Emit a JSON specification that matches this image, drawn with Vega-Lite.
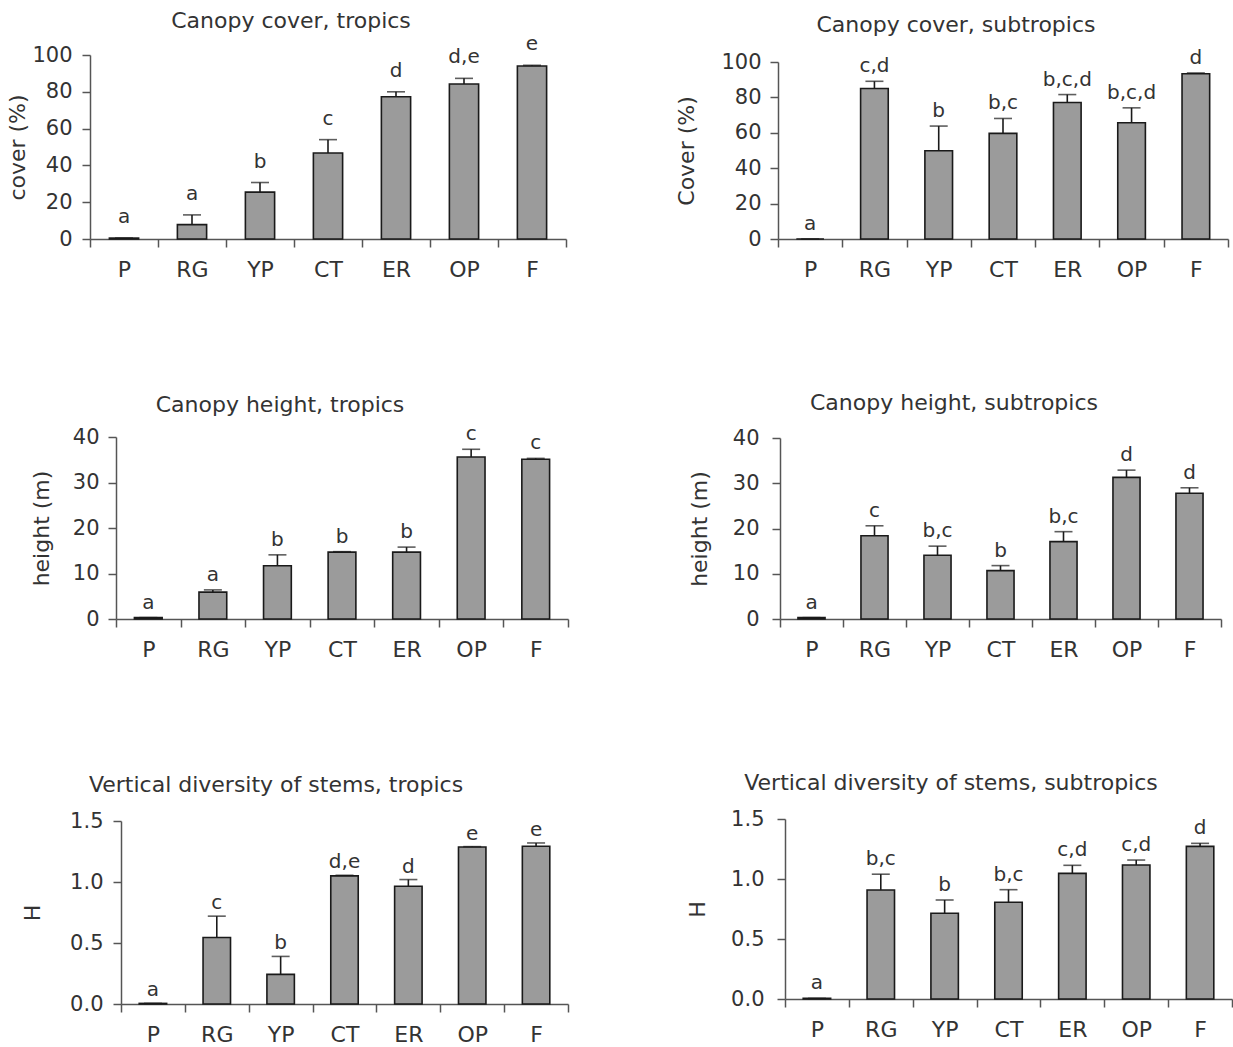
{
  "$schema": "https://vega.github.io/schema/vega-lite/v6.json",
  "padding": {"left": 6, "top": 10, "right": 0, "bottom": 0},
  "bounds": "flush",
  "spacing": 382,
  "datasets": {
    "p1": [
      {"site": "P", "value": 0.5, "err": 0.5, "letter": "a"},
      {"site": "RG", "value": 7.8, "err": 13.1, "letter": "a"},
      {"site": "YP", "value": 25.5, "err": 30.7, "letter": "b"},
      {"site": "CT", "value": 46.7, "err": 54, "letter": "c"},
      {"site": "ER", "value": 77.3, "err": 80, "letter": "d"},
      {"site": "OP", "value": 84.2, "err": 87.3, "letter": "d,e"},
      {"site": "F", "value": 94, "err": 94.4, "letter": "e"}
    ],
    "p2": [
      {"site": "P", "value": 0, "err": 0, "letter": "a"},
      {"site": "RG", "value": 85, "err": 89.1, "letter": "c,d"},
      {"site": "YP", "value": 49.9, "err": 63.8, "letter": "b"},
      {"site": "CT", "value": 59.7, "err": 68.1, "letter": "b,c"},
      {"site": "ER", "value": 77.1, "err": 81.6, "letter": "b,c,d"},
      {"site": "OP", "value": 65.7, "err": 74.1, "letter": "b,c,d"},
      {"site": "F", "value": 93.4, "err": 93.8, "letter": "d"}
    ],
    "p3": [
      {"site": "P", "value": 0.3, "err": 0.3, "letter": "a"},
      {"site": "RG", "value": 5.9, "err": 6.4, "letter": "a"},
      {"site": "YP", "value": 11.7, "err": 14.1, "letter": "b"},
      {"site": "CT", "value": 14.7, "err": 14.8, "letter": "b"},
      {"site": "ER", "value": 14.7, "err": 15.8, "letter": "b"},
      {"site": "OP", "value": 35.6, "err": 37.3, "letter": "c"},
      {"site": "F", "value": 35.1, "err": 35.3, "letter": "c"}
    ],
    "p4": [
      {"site": "P", "value": 0.3, "err": 0.3, "letter": "a"},
      {"site": "RG", "value": 18.4, "err": 20.6, "letter": "c"},
      {"site": "YP", "value": 14.1, "err": 16.1, "letter": "b,c"},
      {"site": "CT", "value": 10.7, "err": 11.8, "letter": "b"},
      {"site": "ER", "value": 17.1, "err": 19.3, "letter": "b,c"},
      {"site": "OP", "value": 31.3, "err": 32.9, "letter": "d"},
      {"site": "F", "value": 27.8, "err": 29.0, "letter": "d"}
    ],
    "p5": [
      {"site": "P", "value": 0.005, "err": 0.005, "letter": "a"},
      {"site": "RG", "value": 0.545, "err": 0.72, "letter": "c"},
      {"site": "YP", "value": 0.243, "err": 0.39, "letter": "b"},
      {"site": "CT", "value": 1.05, "err": 1.055, "letter": "d,e"},
      {"site": "ER", "value": 0.965, "err": 1.02, "letter": "d"},
      {"site": "OP", "value": 1.287, "err": 1.29, "letter": "e"},
      {"site": "F", "value": 1.293, "err": 1.32, "letter": "e"}
    ],
    "p6": [
      {"site": "P", "value": 0.005, "err": 0.005, "letter": "a"},
      {"site": "RG", "value": 0.908, "err": 1.04, "letter": "b,c"},
      {"site": "YP", "value": 0.714, "err": 0.825, "letter": "b"},
      {"site": "CT", "value": 0.806, "err": 0.911, "letter": "b,c"},
      {"site": "ER", "value": 1.047, "err": 1.114, "letter": "c,d"},
      {"site": "OP", "value": 1.117, "err": 1.158, "letter": "c,d"},
      {"site": "F", "value": 1.272, "err": 1.297, "letter": "d"}
    ]
  },
  "vconcat": [
    {
      "hconcat": [
        {
          "width": 478, "height": 184,
          "data": {"name": "p1"},
          "title": {"text": "Canopy cover, tropics", "dx": -38, "offset": 1},
          "encoding": {"x": {"field": "site", "type": "nominal", "sort": ["P", "RG", "YP", "CT", "ER", "OP", "F"], "title": null, "scale": {"range": [0, 476], "paddingInner": 0, "paddingOuter": 0}}},
          "layer": [
            {"mark": {"type": "bar", "width": {"band": 0.43}, "fill": "#9b9b9b", "stroke": "#1a1a1a", "strokeWidth": 1.6},
             "encoding": {"y": {"field": "value", "type": "quantitative", "title": "cover (%)", "scale": {"domain": [0, 100], "nice": false, "range": [184, 0]}, "axis": {"values": [0, 20, 40, 60, 80, 100], "labelOverlap": false, "labelPadding": 10, "titlePadding": 2}}}},
            {"mark": {"type": "rule", "color": "#1a1a1a", "strokeWidth": 1.6}, "encoding": {"y": {"field": "value", "type": "quantitative", "title": "cover (%)", "axis": {"values": [0, 20, 40, 60, 80, 100], "labelOverlap": false, "labelPadding": 10, "titlePadding": 2}}, "y2": {"field": "err"}}},
            {"mark": {"type": "tick", "size": 18, "thickness": 1.6, "color": "#1a1a1a"}, "encoding": {"y": {"field": "err", "type": "quantitative", "title": "cover (%)", "axis": {"values": [0, 20, 40, 60, 80, 100], "labelOverlap": false, "labelPadding": 10, "titlePadding": 2}}}},
            {"mark": {"type": "text", "baseline": "bottom", "dy": -11}, "encoding": {"y": {"field": "err", "type": "quantitative", "title": "cover (%)", "axis": {"values": [0, 20, 40, 60, 80, 100], "labelOverlap": false, "labelPadding": 10, "titlePadding": 2}}, "text": {"field": "letter"}}}
          ]
        },
        {
          "width": 454, "height": 184,
          "data": {"name": "p2"},
          "title": {"text": "Canopy cover, subtropics", "dx": -49, "offset": 11},
          "encoding": {"x": {"field": "site", "type": "nominal", "sort": ["P", "RG", "YP", "CT", "ER", "OP", "F"], "title": null, "scale": {"range": [0, 450], "paddingInner": 0, "paddingOuter": 0}}},
          "layer": [
            {"mark": {"type": "bar", "width": {"band": 0.43}, "fill": "#9b9b9b", "stroke": "#1a1a1a", "strokeWidth": 1.6},
             "encoding": {"y": {"field": "value", "type": "quantitative", "title": "Cover (%)", "scale": {"domain": [0, 100], "nice": false, "range": [184, 7]}, "axis": {"values": [0, 20, 40, 60, 80, 100], "labelOverlap": false, "labelPadding": 9, "titlePadding": 22}}}},
            {"mark": {"type": "rule", "color": "#1a1a1a", "strokeWidth": 1.6}, "encoding": {"y": {"field": "value", "type": "quantitative", "title": "Cover (%)", "axis": {"values": [0, 20, 40, 60, 80, 100], "labelOverlap": false, "labelPadding": 9, "titlePadding": 22}}, "y2": {"field": "err"}}},
            {"mark": {"type": "tick", "size": 18, "thickness": 1.6, "color": "#1a1a1a"}, "encoding": {"y": {"field": "err", "type": "quantitative", "title": "Cover (%)", "axis": {"values": [0, 20, 40, 60, 80, 100], "labelOverlap": false, "labelPadding": 9, "titlePadding": 22}}}},
            {"mark": {"type": "text", "baseline": "bottom", "dy": -5}, "encoding": {"y": {"field": "err", "type": "quantitative", "title": "Cover (%)", "axis": {"values": [0, 20, 40, 60, 80, 100], "labelOverlap": false, "labelPadding": 9, "titlePadding": 22}}, "text": {"field": "letter"}}}
          ]
        }
      ],
      "spacing": 210,
      "bounds": "flush"
    },
    {
      "hconcat": [
        {
          "width": 478, "height": 182,
          "data": {"name": "p3"},
          "title": {"text": "Canopy height, tropics", "dx": -49, "offset": 7},
          "encoding": {"x": {"field": "site", "type": "nominal", "sort": ["P", "RG", "YP", "CT", "ER", "OP", "F"], "title": null, "scale": {"range": [26, 478], "paddingInner": 0, "paddingOuter": 0}}},
          "layer": [
            {"mark": {"type": "bar", "width": {"band": 0.43}, "fill": "#9b9b9b", "stroke": "#1a1a1a", "strokeWidth": 1.6},
             "encoding": {"y": {"field": "value", "type": "quantitative", "title": "height (m)", "scale": {"domain": [0, 40], "nice": false, "range": [182, 0]}, "axis": {"values": [0, 10, 20, 30, 40], "labelOverlap": false, "labelPadding": 9, "titlePadding": 19, "offset": -26}}}},
            {"mark": {"type": "rule", "color": "#1a1a1a", "strokeWidth": 1.6}, "encoding": {"y": {"field": "value", "type": "quantitative", "title": "height (m)"}, "y2": {"field": "err"}}},
            {"mark": {"type": "tick", "size": 18, "thickness": 1.6, "color": "#1a1a1a"}, "encoding": {"y": {"field": "err", "type": "quantitative", "title": "height (m)"}}},
            {"mark": {"type": "text", "baseline": "bottom", "dy": -5}, "encoding": {"y": {"field": "err", "type": "quantitative", "title": "height (m)"}, "text": {"field": "letter"}}}
          ]
        },
        {
          "width": 454, "height": 182,
          "data": {"name": "p4"},
          "title": {"text": "Canopy height, subtropics", "dx": -51, "offset": 12},
          "encoding": {"x": {"field": "site", "type": "nominal", "sort": ["P", "RG", "YP", "CT", "ER", "OP", "F"], "title": null, "scale": {"range": [2, 443], "paddingInner": 0, "paddingOuter": 0}}},
          "layer": [
            {"mark": {"type": "bar", "width": {"band": 0.43}, "fill": "#9b9b9b", "stroke": "#1a1a1a", "strokeWidth": 1.6},
             "encoding": {"y": {"field": "value", "type": "quantitative", "title": "height (m)", "scale": {"domain": [0, 40], "nice": false, "range": [182, 1]}, "axis": {"values": [0, 10, 20, 30, 40], "labelOverlap": false, "labelPadding": 13, "titlePadding": 21, "offset": -2}}}},
            {"mark": {"type": "rule", "color": "#1a1a1a", "strokeWidth": 1.6}, "encoding": {"y": {"field": "value", "type": "quantitative", "title": "height (m)"}, "y2": {"field": "err"}}},
            {"mark": {"type": "tick", "size": 18, "thickness": 1.6, "color": "#1a1a1a"}, "encoding": {"y": {"field": "err", "type": "quantitative", "title": "height (m)"}}},
            {"mark": {"type": "text", "baseline": "bottom", "dy": -5}, "encoding": {"y": {"field": "err", "type": "quantitative", "title": "height (m)"}, "text": {"field": "letter"}}}
          ]
        }
      ],
      "spacing": 210,
      "bounds": "flush"
    },
    {
      "hconcat": [
        {
          "width": 478, "height": 185,
          "data": {"name": "p5"},
          "title": {"text": "Vertical diversity of stems, tropics", "dx": -53, "offset": 13},
          "encoding": {"x": {"field": "site", "type": "nominal", "sort": ["P", "RG", "YP", "CT", "ER", "OP", "F"], "title": null, "scale": {"range": [31, 478], "paddingInner": 0, "paddingOuter": 0}}},
          "layer": [
            {"mark": {"type": "bar", "width": {"band": 0.43}, "fill": "#9b9b9b", "stroke": "#1a1a1a", "strokeWidth": 1.6},
             "encoding": {"y": {"field": "value", "type": "quantitative", "title": "H", "scale": {"domain": [0, 1.5], "nice": false, "range": [185, 2]}, "axis": {"values": [0, 0.5, 1, 1.5], "format": ".1f", "labelOverlap": false, "labelPadding": 10, "titlePadding": 25, "offset": -31}}}},
            {"mark": {"type": "rule", "color": "#1a1a1a", "strokeWidth": 1.6}, "encoding": {"y": {"field": "value", "type": "quantitative", "title": "H"}, "y2": {"field": "err"}}},
            {"mark": {"type": "tick", "size": 18, "thickness": 1.6, "color": "#1a1a1a"}, "encoding": {"y": {"field": "err", "type": "quantitative", "title": "H"}}},
            {"mark": {"type": "text", "baseline": "bottom", "dy": -3}, "encoding": {"y": {"field": "err", "type": "quantitative", "title": "H"}, "text": {"field": "letter"}}}
          ]
        },
        {
          "width": 454, "height": 185,
          "data": {"name": "p6"},
          "title": {"text": "Vertical diversity of stems, subtropics", "dx": -54, "offset": 13},
          "encoding": {"x": {"field": "site", "type": "nominal", "sort": ["P", "RG", "YP", "CT", "ER", "OP", "F"], "title": null, "scale": {"range": [7, 454], "paddingInner": 0, "paddingOuter": 0}, "axis": {"offset": -5}}},
          "layer": [
            {"mark": {"type": "bar", "width": {"band": 0.43}, "fill": "#9b9b9b", "stroke": "#1a1a1a", "strokeWidth": 1.6},
             "encoding": {"y": {"field": "value", "type": "quantitative", "title": "H", "scale": {"domain": [0, 1.5], "nice": false, "range": [180, 0]}, "axis": {"values": [0, 0.5, 1, 1.5], "format": ".1f", "labelOverlap": false, "labelPadding": 13, "titlePadding": 21, "offset": -7}}}},
            {"mark": {"type": "rule", "color": "#1a1a1a", "strokeWidth": 1.6}, "encoding": {"y": {"field": "value", "type": "quantitative", "title": "H"}, "y2": {"field": "err"}}},
            {"mark": {"type": "tick", "size": 18, "thickness": 1.6, "color": "#1a1a1a"}, "encoding": {"y": {"field": "err", "type": "quantitative", "title": "H"}}},
            {"mark": {"type": "text", "baseline": "bottom", "dy": -5}, "encoding": {"y": {"field": "err", "type": "quantitative", "title": "H"}, "text": {"field": "letter"}}}
          ]
        }
      ],
      "spacing": 210,
      "bounds": "flush"
    }
  ],
  "config": {
    "font": "DejaVu Sans",
    "view": {"stroke": null},
    "axis": {"grid": false, "labelOverlap": false, "domainColor": "#555", "tickColor": "#555", "domainWidth": 1.5, "tickWidth": 1.5, "tickSize": 8, "labelFont": "DejaVu Sans", "labelFontSize": 21, "labelColor": "#333", "titleFont": "DejaVu Sans", "titleFontSize": 22, "titleFontWeight": "normal", "titleColor": "#333"},
    "axisX": {"labelFontSize": 22, "labelAngle": 0, "tickBand": "extent", "labelPadding": 12},
    "title": {"fontSize": 22, "fontWeight": "normal", "color": "#333", "font": "DejaVu Sans", "frame": "group", "offset": 27, "baseline": "alphabetic", "anchor": "middle"},
    "text": {"fontSize": 20, "color": "#333", "font": "DejaVu Sans"}
  }
}
